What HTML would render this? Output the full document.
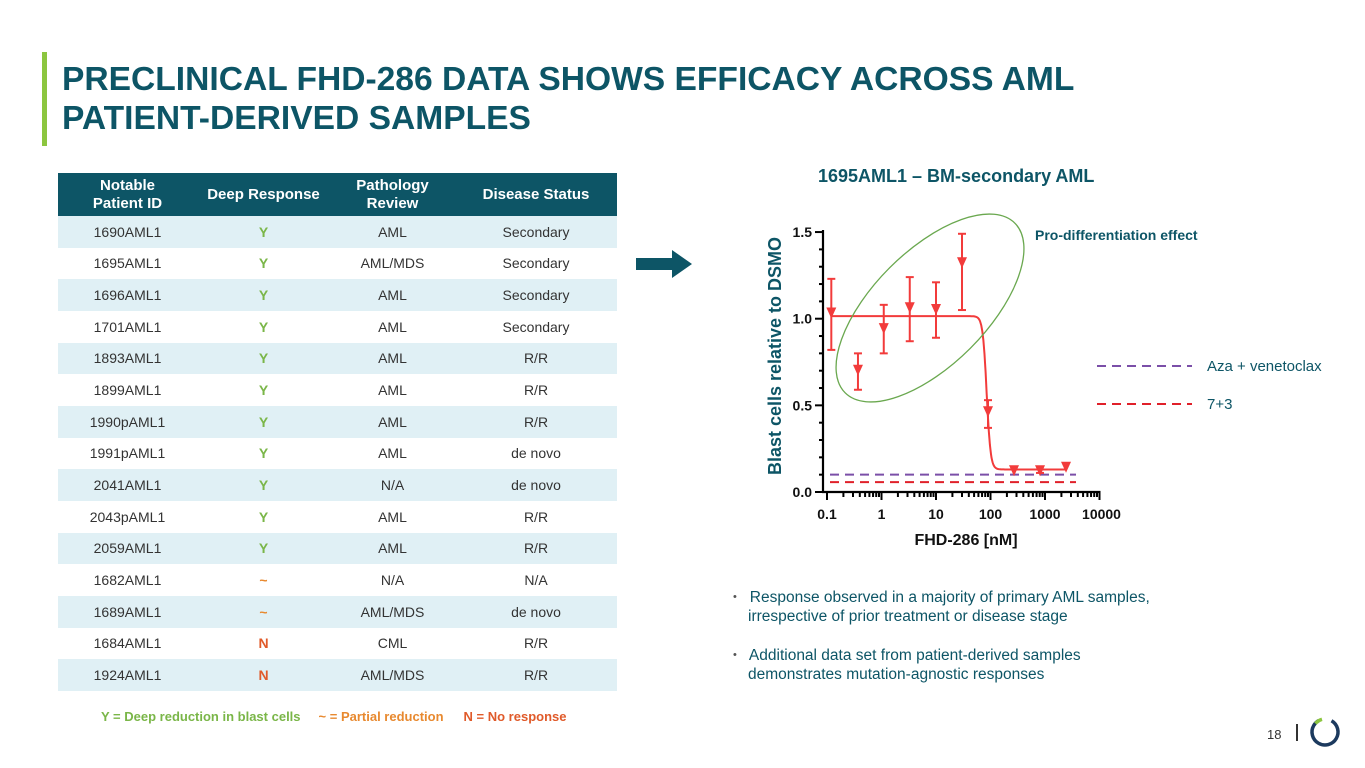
<!DOCTYPE html>
<html><head><meta charset="utf-8">
<style>
body{margin:0;width:1365px;height:768px;background:#fff;font-family:"Liberation Sans",Arial,sans-serif;position:relative;overflow:hidden}
.abs{position:absolute}
#title{left:62px;top:60px;font-size:33.6px;font-weight:bold;color:#0d5566;line-height:39px;white-space:nowrap}
table{border-collapse:collapse;position:absolute;left:58px;top:173px;width:559px;font-size:14px;color:#333}
th{background:#0d5566;color:#fff;font-size:15px;height:43px;font-weight:bold;line-height:18px;padding:0}
td{height:31.67px;text-align:center;padding:0}
tr.alt td{background:#e0f0f5}
.y{color:#7ab648;font-weight:bold}.p{color:#e8892f;font-weight:bold}.n{color:#e05a2a;font-weight:bold}
.bul{left:733px;font-size:15.5px;color:#0d5566;line-height:19px}
.dot{color:#555;font-size:11px;vertical-align:2px}
</style></head><body>
<div class="abs" style="left:42px;top:52px;width:5px;height:94px;background:#8cc63f"></div>
<div class="abs" id="title">PRECLINICAL FHD-286 DATA SHOWS EFFICACY ACROSS AML<br>PATIENT-DERIVED SAMPLES</div>

<table>
<colgroup><col style="width:139px"><col style="width:133px"><col style="width:125px"><col style="width:162px"></colgroup>
<tr><th>Notable<br>Patient ID</th><th>Deep Response</th><th>Pathology<br>Review</th><th>Disease Status</th></tr>
<tr class="alt"><td>1690AML1</td><td class="y">Y</td><td>AML</td><td>Secondary</td></tr>
<tr><td>1695AML1</td><td class="y">Y</td><td>AML/MDS</td><td>Secondary</td></tr>
<tr class="alt"><td>1696AML1</td><td class="y">Y</td><td>AML</td><td>Secondary</td></tr>
<tr><td>1701AML1</td><td class="y">Y</td><td>AML</td><td>Secondary</td></tr>
<tr class="alt"><td>1893AML1</td><td class="y">Y</td><td>AML</td><td>R/R</td></tr>
<tr><td>1899AML1</td><td class="y">Y</td><td>AML</td><td>R/R</td></tr>
<tr class="alt"><td>1990pAML1</td><td class="y">Y</td><td>AML</td><td>R/R</td></tr>
<tr><td>1991pAML1</td><td class="y">Y</td><td>AML</td><td>de novo</td></tr>
<tr class="alt"><td>2041AML1</td><td class="y">Y</td><td>N/A</td><td>de novo</td></tr>
<tr><td>2043pAML1</td><td class="y">Y</td><td>AML</td><td>R/R</td></tr>
<tr class="alt"><td>2059AML1</td><td class="y">Y</td><td>AML</td><td>R/R</td></tr>
<tr><td>1682AML1</td><td class="p">~</td><td>N/A</td><td>N/A</td></tr>
<tr class="alt"><td>1689AML1</td><td class="p">~</td><td>AML/MDS</td><td>de novo</td></tr>
<tr><td>1684AML1</td><td class="n">N</td><td>CML</td><td>R/R</td></tr>
<tr class="alt"><td>1924AML1</td><td class="n">N</td><td>AML/MDS</td><td>R/R</td></tr>
</table>
<div class="abs" style="left:101px;top:709px;font-size:13px;font-weight:bold;white-space:nowrap">
<span class="y">Y = Deep reduction in blast cells</span><span class="p" style="margin-left:18px">~ = Partial reduction</span><span class="n" style="margin-left:20px">N = No response</span></div>

<svg class="abs" style="left:636px;top:250px" width="58" height="28"><polygon points="0,8 36,8 36,0 56,14 36,28 36,20 0,20" fill="#0d5566"/></svg>

<div class="abs" style="left:818px;top:166px;font-size:18px;font-weight:bold;color:#0d5566">1695AML1 – BM-secondary AML</div>

<svg id="chart" class="abs" style="left:0;top:0" width="1365" height="768"></svg>

<div class="abs bul" style="top:588px"><span class="dot">•</span>&nbsp;&nbsp; Response observed in a majority of primary AML samples,<br><span style="padding-left:15px">irrespective of prior treatment or disease stage</span></div>
<div class="abs bul" style="top:646px"><span class="dot">•</span>&nbsp;&nbsp; Additional data set from patient-derived samples<br><span style="padding-left:15px">demonstrates mutation-agnostic responses</span></div>

<div class="abs" style="left:1267px;top:727px;font-size:13px;color:#333">18</div>
<div class="abs" style="left:1296px;top:724px;width:1.5px;height:17px;background:#333"></div>
<svg class="abs" style="left:1308px;top:715px" width="34" height="34">
<circle cx="17" cy="17" r="13" fill="none" stroke="#1c3a5e" stroke-width="3.5" stroke-dasharray="68 14" transform="rotate(-60 17 17)"/>
<path d="M7.5 8.5 A13 13 0 0 1 14 4.3" fill="none" stroke="#8cc63f" stroke-width="3.5"/></svg>

<script>
const doses=[0.12,0.37,1.1,3.3,10,30,90,270,810,2430];
const means=[1.03,0.70,0.94,1.06,1.05,1.32,0.46,0.12,0.12,0.14];
const upper=[1.23,0.80,1.08,1.24,1.21,1.49,0.53,0.12,0.13,0.14];
const lower=[0.82,0.59,0.80,0.87,0.89,1.05,0.37,0.12,0.11,0.14];
const yTicks=[0,0.5,1.0,1.5];
const yTickLabels=["0.0","0.5","1.0","1.5"];
const xTicks=[0.1,1,10,100,1000,10000];
const xTickLabels=["0.1","1","10","100","1000","10000"];
const fitTop=1.015, fitBottom=0.13, fitIC50=85, fitHill=12;
const azaLevel=0.10, sevenThreeLevel=0.057;

const NS="http://www.w3.org/2000/svg";
const svg=document.getElementById('chart');
const X=v=>827+54.5*Math.log10(v/0.1);
const Y=v=>492-173.3*v;
function mk(t,a,p){const e=document.createElementNS(NS,t);for(const k in a)e.setAttribute(k,a[k]);(p||svg).appendChild(e);return e;}

let ax=mk('line',{x1:823,y1:Y(0),x2:823,y2:Y(1.5)-2,stroke:'#000','stroke-width':2.2});

let bx=mk('line',{x1:822,y1:Y(0),x2:X(10000)+1,y2:Y(0),stroke:'#000','stroke-width':2.2});

for(let v=0;v<=1.5001;v+=0.1){const major=Math.abs(v*2-Math.round(v*2))<1e-6;mk('line',{x1:major?815:819,y1:Y(v),x2:823,y2:Y(v),stroke:'#000','stroke-width':2});}
yTicks.forEach((v,i)=>{const t=mk('text',{x:812,y:Y(v)+5,'text-anchor':'end','font-size':14,'font-weight':'bold',fill:'#111'});t.textContent=yTickLabels[i];
});
for(let d=0.1;d<10000;d*=10){for(let m=1;m<10;m++){const v=d*m;mk('line',{x1:X(v),y1:Y(0),x2:X(v),y2:Y(0)+(m==1?8:5),stroke:'#000','stroke-width':2});}}
mk('line',{x1:X(10000),y1:Y(0),x2:X(10000),y2:Y(0)+8,stroke:'#000','stroke-width':2});
xTicks.forEach((v,i)=>{const t=mk('text',{x:X(v)+(i==5?2:0),y:519,'text-anchor':'middle','font-size':14,'font-weight':'bold',fill:'#111'});t.textContent=xTickLabels[i];
});
let xt=mk('text',{x:966,y:545,'text-anchor':'middle','font-size':16,'font-weight':'bold',fill:'#111'});xt.textContent='FHD-286 [nM]';

let yt=mk('text',{x:0,y:0,'text-anchor':'middle','font-size':18,'font-weight':'bold',fill:'#0d5566',transform:'translate(781,356) rotate(-90)'});yt.textContent='Blast cells relative to DSMO';


let l1=mk('line',{x1:830,y1:Y(azaLevel),x2:1076,y2:Y(azaLevel),stroke:'#7b4fa8','stroke-width':2,'stroke-dasharray':'9 6'});

let l2=mk('line',{x1:830,y1:Y(sevenThreeLevel),x2:1076,y2:Y(sevenThreeLevel),stroke:'#e0202a','stroke-width':2,'stroke-dasharray':'9 6'});


let pts=[];for(let lx=Math.log10(0.12);lx<=Math.log10(2500);lx+=0.01){const c=Math.pow(10,lx);const yv=fitBottom+(fitTop-fitBottom)/(1+Math.pow(c/fitIC50,fitHill));pts.push(X(c).toFixed(1)+','+Y(yv).toFixed(1));}
let fit=mk('polyline',{points:pts.join(' '),fill:'none',stroke:'#f23b3b','stroke-width':2});


doses.forEach((d,i)=>{const g=mk('g',{});

const x=X(d);
if(upper[i]-lower[i]>0.02){mk('line',{x1:x,y1:Y(upper[i]),x2:x,y2:Y(lower[i]),stroke:'#f23b3b','stroke-width':2},g);
mk('line',{x1:x-4,y1:Y(upper[i]),x2:x+4,y2:Y(upper[i]),stroke:'#f23b3b','stroke-width':2},g);
mk('line',{x1:x-4,y1:Y(lower[i]),x2:x+4,y2:Y(lower[i]),stroke:'#f23b3b','stroke-width':2},g);}
const y=Y(means[i]);mk('polygon',{points:`${x-5},${y-6} ${x+5},${y-6} ${x},${y+5}`,fill:'#f23b3b'},g);});

let el=mk('ellipse',{cx:930,cy:308,rx:120,ry:57,fill:'none',stroke:'#6aa84f','stroke-width':1.3,transform:'rotate(-45 930 308)'});

let an=mk('text',{x:1035,y:240,'font-size':14,'font-weight':'bold',fill:'#0d5566'});an.textContent='Pro-differentiation effect';


let g1=mk('g',{});
mk('line',{x1:1097,y1:366,x2:1192,y2:366,stroke:'#7b4fa8','stroke-width':2,'stroke-dasharray':'9 6'},g1);
let t1=mk('text',{x:1207,y:371,'font-size':15,fill:'#0d5566'},g1);t1.textContent='Aza + venetoclax';
let g2=mk('g',{});
mk('line',{x1:1097,y1:404,x2:1192,y2:404,stroke:'#e0202a','stroke-width':2,'stroke-dasharray':'9 6'},g2);
let t2=mk('text',{x:1207,y:409,'font-size':15,fill:'#0d5566'},g2);t2.textContent='7+3';
</script>
</body></html>
